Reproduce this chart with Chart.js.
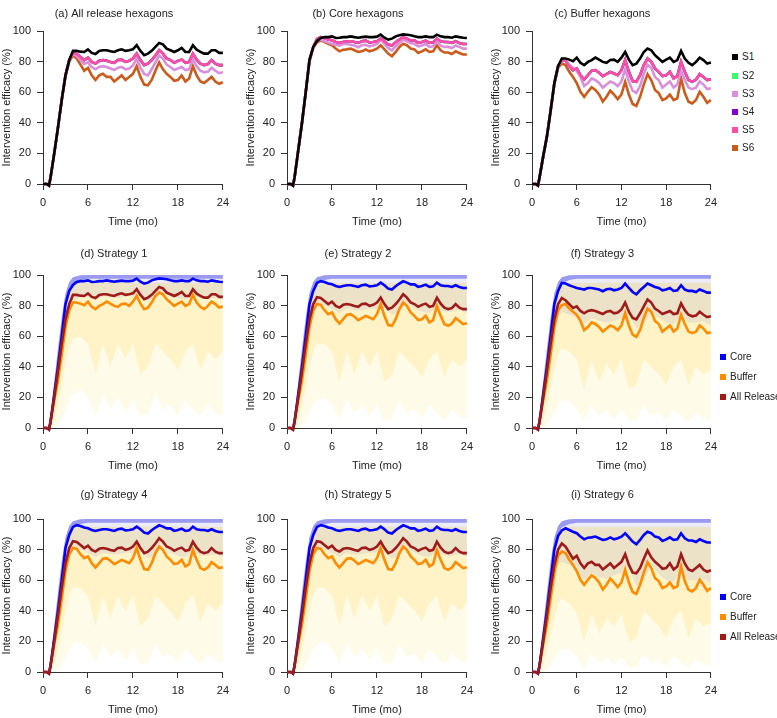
<!DOCTYPE html>
<html>
<head>
<meta charset="utf-8">
<script src="https://cdn.jsdelivr.net/npm/chart.js@4.4.1/dist/chart.umd.min.js"></script>
<style>
  body { margin: 0; background: #fff; width: 777px; height: 718px; position: relative; overflow: hidden;
         font-family: "Liberation Sans", Arial, sans-serif; }
  canvas { position: absolute; }
  .lg { position: absolute; height: 14px; line-height: 14px; font-size: 10px; color: #222; white-space: nowrap; }
  .lg i { display: inline-block; width: 6px; height: 6px; margin-right: 4px; vertical-align: 0px; }
</style>
</head>
<body>
<canvas id="pa" width="236" height="229" style="left:-1px;top:0px"></canvas>
<canvas id="pb" width="236" height="229" style="left:243px;top:0px"></canvas>
<canvas id="pc" width="235" height="229" style="left:488px;top:0px"></canvas>
<canvas id="pd" width="236" height="229" style="left:-1px;top:244px"></canvas>
<canvas id="pe" width="236" height="229" style="left:243px;top:244px"></canvas>
<canvas id="pf" width="235" height="229" style="left:488px;top:244px"></canvas>
<canvas id="pg" width="236" height="229" style="left:-1px;top:488px"></canvas>
<canvas id="ph" width="236" height="229" style="left:243px;top:488px"></canvas>
<canvas id="pi" width="235" height="229" style="left:488px;top:488px"></canvas>
<div id="legends"></div>
<script>
// time (months) for the mean lines
var T = [0,0.5,0.8,1,1.5,2,2.5,3,3.5,4,4.5,5,5.5,6,6.5,7,7.5,8,8.5,9,9.5,10,10.5,11,11.5,12,12.5,13,13.5,14,14.5,15,15.5,16,16.5,17,17.5,18,18.5,19,19.5,20,20.5,21,21.5,22,22.5,23,23.5,24];

// all release hexagons (mean efficacy %)
var allS1 = [0,0,-1,4,20,37,55,71,81, 87,87,86.5,86.3,88,85.7,85,87,87.4,87.4,86.8,86.3,87.4,88,87,87.4,88,90.7,87,84.2,85.2,87,89.6,92.2,91.3,88.5,87.4,86.3,87.4,89,86.3,86.3,90.7,87.8,86.3,85.2,85.2,87.4,87.4,85.7,85.7];
var allS3 = [0,0,-1,4,20,37,55,71,81, 85,83.5,81,78.5,79.5,76.5,75,76.5,77,76.5,75.5,74.5,76,76.5,75,75.5,77.5,82,76,72,71,75,79.5,84,82,78,76.5,74.5,75.5,76.5,74.5,75,81.5,77,74,73,73.5,76,74,72.5,73];
var allS5 = [0,0,-1,4,20,37,55,71,81, 85.5,85,83,81,82.6,79.8,78.7,80.5,81,80.5,79.8,79.2,81,81.3,79.8,80.5,82,85.2,81,77.7,78.7,81,84,87.4,85.2,82,81,79.2,80.5,81.3,79.2,79.8,85.2,81.3,78.7,77.7,78.3,81,78.7,77.7,77.7];
var allS6 = [0,0,-1,4,20,37,55,70,80, 84,82,78,74,76,71,68,71,72,70,70,67,69,71,68,70,72,77,70,65,64.5,68,74,79.5,75,72,70,67.5,68,71,67,69,77,71,67,66,68,70,67,65.5,66.5];
var allS2 = allS5;
var allS4 = allS5;

// core hexagons
var coreS1 = [0,0,-1,4,22,40,60,81,89.6, 93.5,95.5,96,96,96.5,95.4,95.6,96,96,96.5,96,95.6,96,96.3,96,96,96.3,97.6,95.6,94.4,95,96.5,97.2,97.8,97.6,97.2,96.5,96,96,96.5,96,96,97.6,96.5,96,96,95.6,96.5,96,95.6,95.4];
var coreS3 = [0,0,-1,4,22,40,60,81,89.6, 94.8,94.4,93.3,92.4,91.5,91,90.5,91.5,91.5,91,90.5,89.4,90.7,91,90,90.5,91.5,94.4,91.5,88.9,87.4,90,92.2,94.4,93.3,92.2,91.5,90,90.5,91.5,89.6,90,93.3,90.5,89.6,89.6,88.9,90.5,89.6,88.5,88.5];
var coreS5 = [0,0,-1,4,22,40,60,81,89.6, 94.8,96,95.4,94.4,93.9,92.8,92.2,92.8,93.3,93.3,92.8,92.2,93.3,93.7,92.6,92.8,93.3,95,93.3,91.1,90.5,92.6,94.4,95.9,95,93.9,93.9,92.2,92.8,93.7,92.2,92.6,95,93.3,92.8,92.8,92.2,93.3,92.2,91.5,91.5];
var coreS6 = [0,0,-1,4,22,40,60,80,89, 92.5,93.9,92.8,91.7,90.7,88.5,86.7,87.8,88,88.5,87.4,86.3,86.7,88,86.7,87.4,88.5,90.7,88,85.2,83.5,86.3,89.6,91.7,90.7,88.5,88,85.6,86.7,88,86.3,86.7,90.7,87.4,85.9,85.9,85,86.7,85.6,84.6,84.6];
var coreS2 = coreS5;
var coreS4 = coreS5;

// buffer hexagons
var bufS1 = [0,0,-1,4,18,31,48,66,77, 82,82,81.3,80.3,82.6,79.2,77.7,79.8,81,82.6,81.3,79.8,79.2,81,81.3,79.8,82.6,86.3,81.3,77.7,78.7,82,86.3,88.5,87.4,84.2,82,79.8,81.3,82.6,79.8,81,87,82,79.2,77.7,79.8,82.6,81,78.7,79.4];
var bufS3 = [0,0,-1,4,18,31,48,66,77, 80.3,81,78,76,74,70,64,66,69,68,66,63,65,67,66,64,67,75,67,61,59.5,64,72,78,76,70,68,63,65,67,63,65,74,68,63,62,63,67,65,62,62.5];
var bufS5 = [0,0,-1,4,18,31,48,66,77, 81,80.5,77,74.4,75.5,71.1,68.3,71.1,74,74.4,72.7,70.5,71.8,73.3,72.2,71.1,74.4,81,73.3,67.3,66.8,71.1,77.7,82,79.8,75.5,73.3,70.5,71.1,73.3,69,70.5,79.8,73.3,67.9,66.8,68.3,71.8,70,67.9,68.5];
var bufS6 = [0,0,-1,4,18,31,48,65,76, 78.7,77.7,73.3,70,66,60.3,57,60.3,63.2,61.5,58.5,53.8,57,61,58.5,55.5,58.5,66.8,58.5,52.3,51,57,65,71.8,67.9,61.5,59.4,54.9,56,58.5,54.9,56,69,59.4,53.8,52.7,54.9,60.3,57,53,54.9];
var bufS2 = bufS5;
var bufS4 = bufS5;

// spread of the individual hexagon traces (envelopes), coarser time grid
var BT = [0,0.8,1,1.5,2,2.5,3,3.5,4,5,6,7,8,9,10,11,12,13,14,15,16,17,18,19,20,21,22,23,24];
var coreTop   = [0,0,8,30,52,72,88,95.5,98.5,99.8,100,100,100,100,100,100,100,100,100,100,100,100,100,100,100,100,100,100,100];
var coreDense = [0,0,4,24,44,64,80,90,94.5,96.8,97.5,97.5,97.5,97.5,97.5,97.5,97.5,97.5,97.5,97.5,97.5,97.5,97.5,97.5,97.5,97.5,97.5,97.5,97.5];
var bufTop    = [0,0,6,26,46,66,82,90,93,95,95,95,95,95,95,95,95,95,95,95,95,95,95,95,95,95,95,95,95];

var coreLoS1 = [0,0,0,12,28,45,62,75,82, 86,86,84,86,86,85,86,86,87,83,85,88,86,85,84,86,85,85,85,84];
var coreLoS3 = [0,0,0,12,28,45,62,72,76, 74,72,68,72,70,69,70,72,74,65,68,76,72,69,68,73,69,69,70,67];
var coreLoS5 = [0,0,0,12,28,45,62,74,80, 80,78,75,78,77,77,78,78,79,74,76,82,78,76,75,79,76,76,77,75];
var coreLoS6 = [0,0,0,12,28,45,60,70,72, 70,66,60,65,62,61,63,65,68,56,60,70,64,60,59,65,60,60,61,58];

var bufMidS1 = [0,0,0,5,15,28,42,52,58, 60,55,35,55,40,55,45,55,35,40,55,50,45,38,50,55,38,50,45,50];
var bufMidS3 = [0,0,0,5,14,25,38,48,52, 50,45,25,45,30,42,35,45,25,28,45,40,35,28,40,45,28,40,35,38];
var bufMidS5 = [0,0,0,5,15,26,40,50,55, 55,50,30,50,35,50,40,50,30,35,50,45,40,33,45,50,33,45,40,45];
var bufMidS6 = [0,0,0,5,14,24,35,45,48, 45,38,20,38,25,35,30,38,20,22,40,35,30,22,35,40,22,35,30,32];

var bufLoS1 = [0,0,0,0,2,6,12,18,22, 25,20,8,22,12,20,10,18,8,10,22,12,15,8,18,12,8,15,10,8];
var bufLoS3 = [0,0,0,0,2,5,10,15,18, 18,12,5,15,8,12,6,12,5,5,15,8,10,5,12,8,4,10,6,5];
var bufLoS5 = [0,0,0,0,2,5,10,15,18, 20,15,6,18,10,15,8,15,5,6,18,10,12,6,15,10,5,12,8,6];
var bufLoS6 = [0,0,0,0,2,4,8,12,15, 15,10,3,12,6,10,5,10,3,3,12,6,8,4,10,6,3,8,5,4];

var sNames  = ['S1', 'S2', 'S3', 'S4', 'S5', 'S6'];
var sColors = ['#000000', '#33FF66', '#D98FDB', '#8000CC', '#FF4DA6', '#CC5A1A'];
var kNames  = ['Core', 'Buffer', 'All Release'];
var kColors = ['#0000FF', '#FF8C00', '#9E1B1B'];

var FONT = '"Liberation Sans", Arial, sans-serif';
Chart.defaults.font.family = FONT;
Chart.defaults.font.size = 11;
Chart.defaults.color = '#222';

function pts(xs, ys) {
  return xs.map(function (x, i) { return {x: x, y: ys[i]}; });
}

function line(ys, color, order) {
  return {data: pts(T, ys), borderColor: color, borderWidth: 2.6, pointRadius: 0,
          tension: 0, fill: false, clip: false, order: order};
}

// two datasets: upper edge, then lower edge filled up to it
function band(top, low, color, order) {
  return [
    {data: pts(BT, top), borderWidth: 0, borderColor: 'rgba(0,0,0,0)', pointRadius: 0, tension: 0, fill: false, order: order},
    {data: pts(BT, low), borderWidth: 0, borderColor: 'rgba(0,0,0,0)', pointRadius: 0, tension: 0, fill: '-1',
     backgroundColor: color, order: order}
  ];
}

var panelTitle = {
  id: 'panelTitle',
  afterDraw: function (chart, args, opts) {
    var ctx = chart.ctx, a = chart.chartArea;
    ctx.save();
    ctx.font = '11px ' + FONT;
    ctx.fillStyle = '#222';
    ctx.textAlign = 'center';
    ctx.textBaseline = 'middle';
    ctx.fillText(opts.text, (a.left + a.right) / 2 - 19, opts.y);
    ctx.restore();
  }
};

function makeChart(id, title, titleY, datasets) {
  return new Chart(document.getElementById(id).getContext('2d'), {
    type: 'line',
    data: {datasets: datasets},
    options: {
      responsive: false,
      animation: false,
      events: [],
      layout: {padding: {left: 0, right: 12, top: 31, bottom: 0}, autoPadding: false},
      plugins: {
        legend: {display: false},
        tooltip: {enabled: false},
        panelTitle: {text: title, y: titleY}
      },
      scales: {
        x: {
          type: 'linear', min: 0, max: 24,
          afterFit: function (s) { s.height = 45; },
          ticks: {stepSize: 6, padding: 6, maxRotation: 0, autoSkip: false},
          grid: {drawOnChartArea: false, drawTicks: true, tickLength: 6, color: '#333'},
          border: {color: '#333', width: 1},
          title: {display: true, text: 'Time (mo)', padding: {top: 0, bottom: 0}}
        },
        y: {
          min: 0, max: 100,
          afterFit: function (s) { s.width = 44; },
          ticks: {stepSize: 20, padding: 6},
          grid: {drawOnChartArea: false, drawTicks: true, tickLength: 6, color: '#333'},
          border: {color: '#333', width: 1},
          title: {display: true, text: 'Intervention efficacy (%)', padding: {top: 1, bottom: 0}}
        }
      }
    },
    plugins: [panelTitle]
  });
}

// top row: one measure, six strategies
function strategyLines(s1, s2, s3, s4, s5, s6) {
  return [
    line(s1, sColors[0], 0),
    line(s5, sColors[4], 1),
    line(s3, sColors[2], 2),
    line(s6, sColors[5], 3),
    line(s4, sColors[3], 4),
    line(s2, sColors[1], 5)
  ];
}

makeChart('pa', '(a) All release hexagons', 14, strategyLines(allS1, allS2, allS3, allS4, allS5, allS6));
makeChart('pb', '(b) Core hexagons', 14, strategyLines(coreS1, coreS2, coreS3, coreS4, coreS5, coreS6));
makeChart('pc', '(c) Buffer hexagons', 14, strategyLines(bufS1, bufS2, bufS3, bufS4, bufS5, bufS6));

// rows 2-3: one strategy, three measures over the spread of single hexagons
function strategyPanel(core, buf, all, coreLo, bufMid, bufLo) {
  return [].concat(
    band(bufTop, bufLo, 'rgba(255,215,40,0.10)', 20),
    band(bufTop, bufMid, 'rgba(255,200,30,0.17)', 19),
    band(coreTop, coreLo, 'rgba(110,110,200,0.13)', 18),
    band(coreTop, coreDense, 'rgba(40,40,230,0.42)', 17),
    [line(all, kColors[2], 1), line(core, kColors[0], 2), line(buf, kColors[1], 3)]
  );
}

makeChart('pd', '(d) Strategy 1', 9.5, strategyPanel(coreS1, bufS1, allS1, coreLoS1, bufMidS1, bufLoS1));
makeChart('pe', '(e) Strategy 2', 9.5, strategyPanel(coreS2, bufS2, allS2, coreLoS5, bufMidS5, bufLoS5));
makeChart('pf', '(f) Strategy 3', 9.5, strategyPanel(coreS3, bufS3, allS3, coreLoS3, bufMidS3, bufLoS3));
makeChart('pg', '(g) Strategy 4', 6.5, strategyPanel(coreS4, bufS4, allS4, coreLoS5, bufMidS5, bufLoS5));
makeChart('ph', '(h) Strategy 5', 6.5, strategyPanel(coreS5, bufS5, allS5, coreLoS5, bufMidS5, bufLoS5));
makeChart('pi', '(i) Strategy 6', 6.5, strategyPanel(coreS6, bufS6, allS6, coreLoS6, bufMidS6, bufLoS6));

// legends
var holder = document.getElementById('legends');
function addLegend(names, colors, x, y0, step) {
  names.forEach(function (n, i) {
    var d = document.createElement('div');
    d.className = 'lg';
    d.style.left = x + 'px';
    d.style.top = (y0 + i * step - 7) + 'px';
    d.innerHTML = '<i style="background:' + colors[i] + '"></i>' + n;
    holder.appendChild(d);
  });
}
addLegend(sNames, sColors, 732, 57.3, 18.2);
addLegend(kNames, kColors, 720, 356.7, 20);
addLegend(kNames, kColors, 720, 597.3, 20);
</script>
</body>
</html>
